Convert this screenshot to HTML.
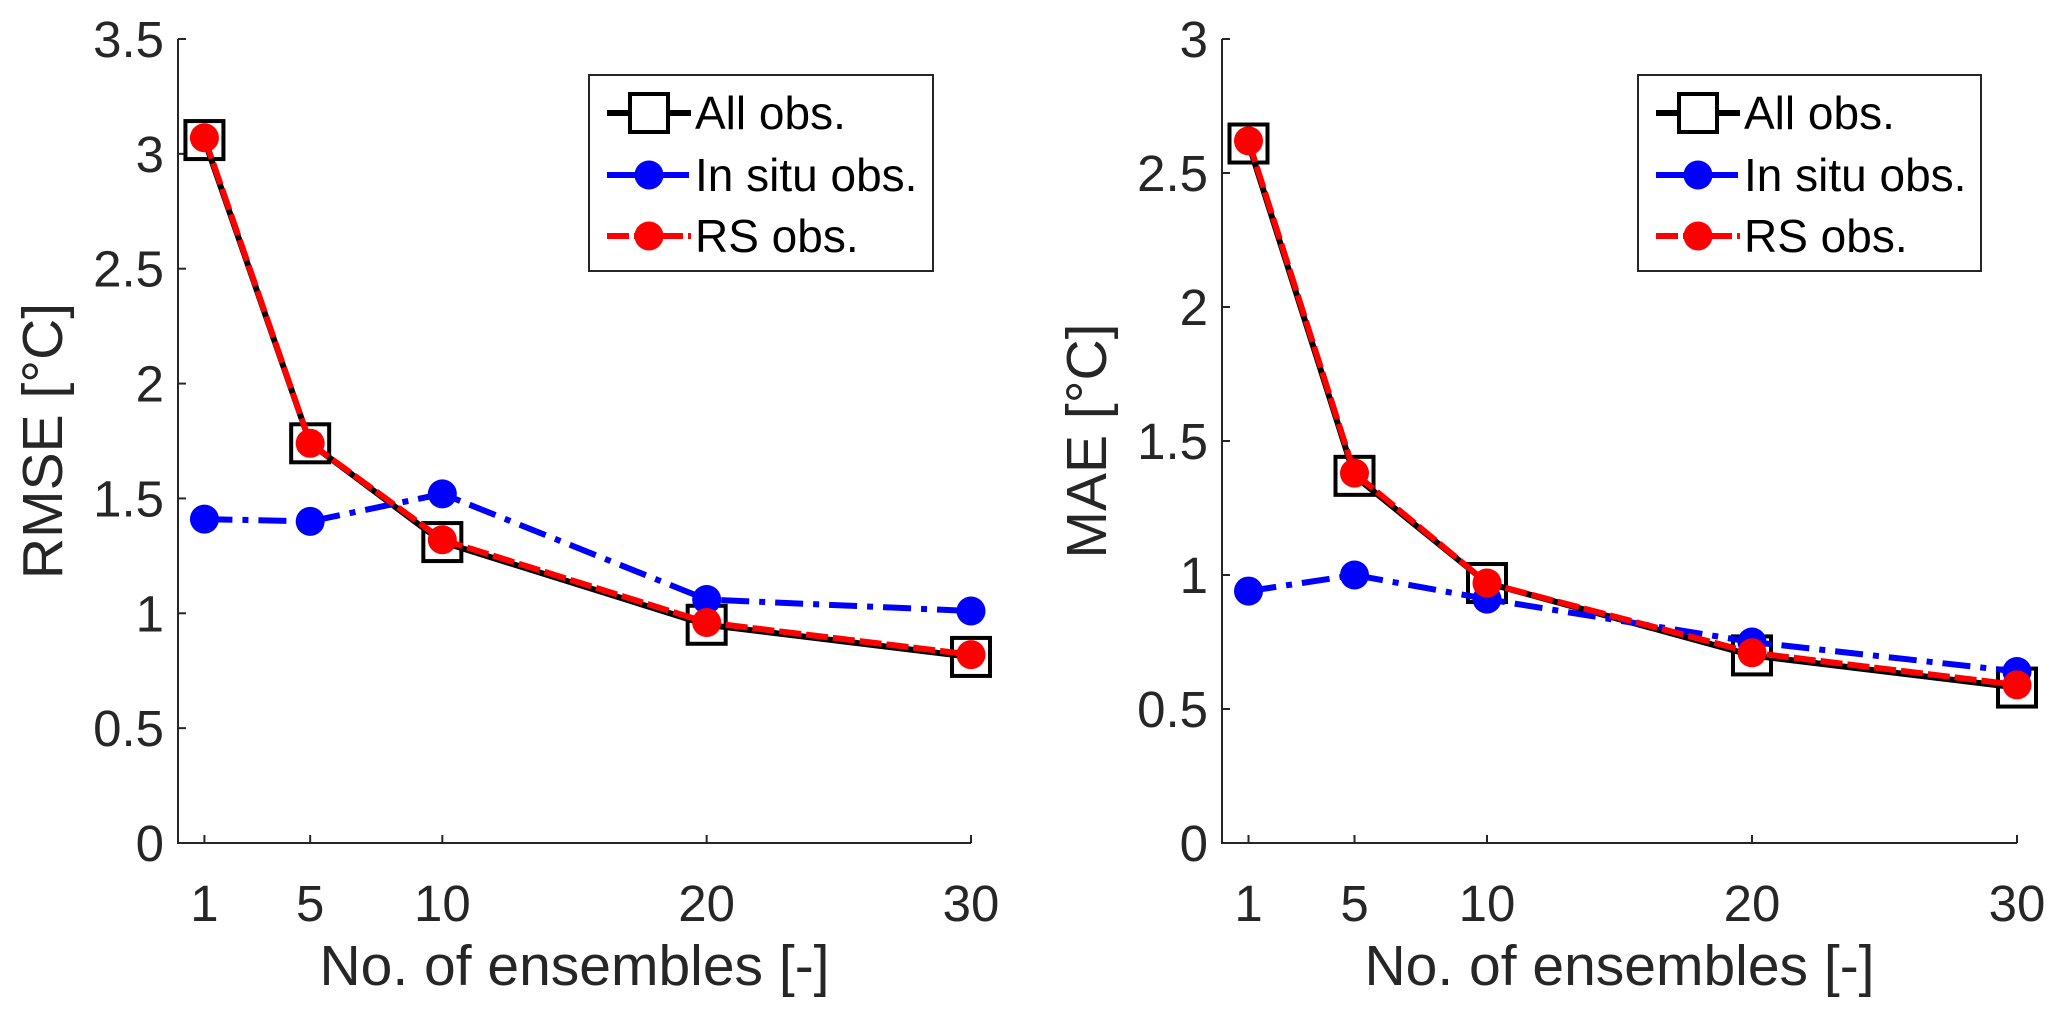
<!DOCTYPE html>
<html><head><meta charset="utf-8"><style>
body{margin:0;background:#fff;}
svg{display:block;font-family:"Liberation Sans",Arial,sans-serif;}
</style></head><body>
<svg id="c" width="2067" height="1019"></svg>
<script>
const categories=[1,5,10,20,30];
const rmseAll=[3.06,1.74,1.31,0.95,0.81];
const rmseInSitu=[1.41,1.40,1.52,1.06,1.01];
const rmseRS=[3.07,1.74,1.32,0.96,0.82];
const maeAll=[2.61,1.37,0.97,0.70,0.58];
const maeInSitu=[0.94,1.00,0.91,0.75,0.64];
const maeRS=[2.62,1.38,0.97,0.71,0.59];
const rmseTicks=["0","0.5","1","1.5","2","2.5","3","3.5"];
const maeTicks=["0","0.5","1","1.5","2","2.5","3"];
const xTickLabels=["1","5","10","20","30"];

const NS="http://www.w3.org/2000/svg";
const svg=document.getElementById('c');
function mk(tag,attrs,parent,text){const e=document.createElementNS(NS,tag);for(const k in attrs)e.setAttribute(k,attrs[k]);if(text!==undefined)e.textContent=text;(parent||svg).appendChild(e);return e;}

function panel(o){
  const g=mk('g',{});
  
  
  const yb=843, yt=39;
  const sx=v=>o.ax+(v/30)*(o.x30-o.ax);
  const sy=v=>yb-(v/o.ymax)*(yb-yt);
  const ax=mk('path',{d:`M${o.ax},${yt}V${yb}H${o.x30}`,stroke:'#262626','stroke-width':2,fill:'none'},g);
  
  
  o.yticks.forEach((t,i)=>{
    const v=parseFloat(t);
    mk('line',{x1:o.ax,x2:o.ax+8,y1:sy(v),y2:sy(v),stroke:'#262626','stroke-width':2},g);
    const tx=mk('text',{x:o.ax-14,y:sy(v)+18,'text-anchor':'end','font-size':51,fill:'#262626'},g,t);
    
    
  });
  categories.forEach((c,i)=>{
    mk('line',{x1:sx(c),x2:sx(c),y1:yb,y2:yb-8,stroke:'#262626','stroke-width':2},g);
    const tx=mk('text',{x:sx(c),y:921,'text-anchor':'middle','font-size':51,fill:'#262626'},g,xTickLabels[i]);
    
    
  });
  const xl=mk('text',{x:(o.ax+o.x30)/2,y:985,'text-anchor':'middle','font-size':57,fill:'#262626'},g,'No. of ensembles [-]');
  
  
  const yl=mk('text',{x:0,y:0,'text-anchor':'middle','font-size':57,fill:'#262626',transform:`translate(${o.ax-116},441) rotate(-90)`},g,o.ylabel);
  
  
  const pts=a=>a.map((v,i)=>`${sx(categories[i])},${sy(v)}`).join(' ');
  const la=mk('polyline',{points:pts(o.all),fill:'none',stroke:'#000','stroke-width':6},g);
  
  
  o.all.forEach((v,i)=>{const r=mk('rect',{x:sx(categories[i])-19,y:sy(v)-19,width:38,height:38,fill:'none',stroke:'#000','stroke-width':4},g);
    
    });
  const li=mk('polyline',{points:pts(o.insitu),fill:'none',stroke:'#0000ff','stroke-width':6,'stroke-dasharray':'28 10 6 10'},g);
  
  
  o.insitu.forEach((v,i)=>{const c=mk('circle',{cx:sx(categories[i]),cy:sy(v),r:14.5,fill:'#0000ff'},g);
    
    });
  const lr=mk('polyline',{points:pts(o.rs),fill:'none',stroke:'#ff0000','stroke-width':6,'stroke-dasharray':'22 5'},g);
  
  
  o.rs.forEach((v,i)=>{const c=mk('circle',{cx:sx(categories[i]),cy:sy(v),r:14.5,fill:'#ff0000'},g);
    
    });
  const lg=mk('g',{},g);
  
  
  const L=o.lx;
  mk('rect',{x:L,y:75,width:o.lw,height:196,fill:'#fff',stroke:'#262626','stroke-width':2},lg);
  const ys=[113,175,236];
  mk('line',{x1:L+18,x2:L+102,y1:ys[0],y2:ys[0],stroke:'#000','stroke-width':6},lg);
  mk('rect',{x:L+41,y:ys[0]-19,width:38,height:38,fill:'#fff',stroke:'#000','stroke-width':4},lg);
  mk('line',{x1:L+18,x2:L+102,y1:ys[1],y2:ys[1],stroke:'#0000ff','stroke-width':6,'stroke-dasharray':'28 10 6 10'},lg);
  mk('circle',{cx:L+60,cy:ys[1],r:14.5,fill:'#0000ff'},lg);
  mk('line',{x1:L+18,x2:L+102,y1:ys[2],y2:ys[2],stroke:'#ff0000','stroke-width':6,'stroke-dasharray':'22 5'},lg);
  mk('circle',{cx:L+60,cy:ys[2],r:14.5,fill:'#ff0000'},lg);
  ['All obs.','In situ obs.','RS obs.'].forEach((t,i)=>{
    const e=mk('text',{x:L+106,y:ys[i]+16,'font-size':46,fill:'#000'},lg,t);
    
    
  });
}
panel({name:'rmse-panel',ax:178,x30:971,ymax:3.5,yticks:rmseTicks,ylabel:'RMSE [°C]',all:rmseAll,insitu:rmseInSitu,rs:rmseRS,lx:589,lw:344});
panel({name:'mae-panel',ax:1222,x30:2017,ymax:3,yticks:maeTicks,ylabel:'MAE [°C]',all:maeAll,insitu:maeInSitu,rs:maeRS,lx:1638,lw:343});
</script>
</body></html>
